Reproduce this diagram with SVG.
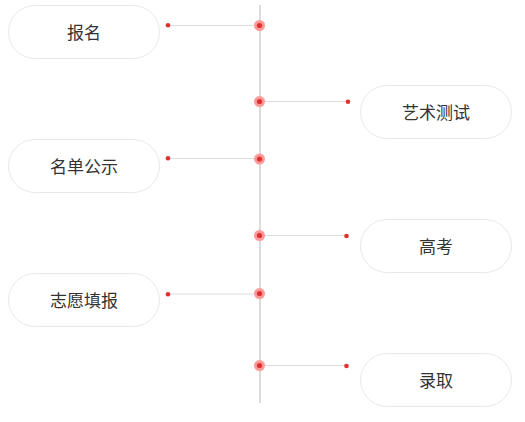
<svg xmlns="http://www.w3.org/2000/svg" width="525" height="422" viewBox="0 0 525 422">
<style>
.pill{fill:#fff;stroke:#e8e8e8;stroke-width:1}
.lbl{font-family:"Noto Sans CJK SC","Noto Sans",sans-serif;font-size:17px;fill:#333;text-anchor:middle;dominant-baseline:central}
.conn{stroke:#dddddd;stroke-width:1;fill:none}
.dot{fill:#e0302f}
.halo{fill:#ff9a9a}
</style>
<rect width="525" height="422" fill="#fff"/>
<g id="connectors">
<line x1="260" y1="5" x2="260" y2="403" stroke="#dcdcdc" stroke-width="2"/>
<line class="conn" x1="168" y1="25.5" x2="260" y2="25.5"/>
<line class="conn" x1="260" y1="101.5" x2="347" y2="101.5"/>
<line class="conn" x1="168" y1="158.5" x2="260" y2="158.5"/>
<line class="conn" x1="260" y1="235.5" x2="347" y2="235.5"/>
<line class="conn" x1="168" y1="294" x2="260" y2="294"/>
<line class="conn" x1="260" y1="365.5" x2="347" y2="365.5"/>
<circle class="dot" cx="168" cy="25.3" r="2.3"/>
<circle class="halo" cx="259.5" cy="25.5" r="5.5"/><circle class="dot" cx="259.5" cy="25.5" r="2.6"/>
<circle class="dot" cx="348" cy="101.8" r="2.3"/>
<circle class="halo" cx="259.5" cy="101.5" r="5.5"/><circle class="dot" cx="259.5" cy="101.5" r="2.6"/>
<circle class="dot" cx="168" cy="158.3" r="2.3"/>
<circle class="halo" cx="259.5" cy="159" r="5.5"/><circle class="dot" cx="259.5" cy="159" r="2.6"/>
<circle class="dot" cx="346.5" cy="236" r="2.3"/>
<circle class="halo" cx="259.5" cy="235.5" r="5.5"/><circle class="dot" cx="259.5" cy="235.5" r="2.6"/>
<circle class="dot" cx="168" cy="294.3" r="2.3"/>
<circle class="halo" cx="259.5" cy="293.5" r="5.5"/><circle class="dot" cx="259.5" cy="293.5" r="2.6"/>
<circle class="dot" cx="346.5" cy="366" r="2.3"/>
<circle class="halo" cx="259.5" cy="365.5" r="5.5"/><circle class="dot" cx="259.5" cy="365.5" r="2.6"/>
</g>
<g id="node-baoming"><rect class="pill" x="8.5" y="5.5" width="151" height="53" rx="26.5"/><text class="lbl" x="84" y="31.5">报名</text></g>
<g id="node-yishu"><rect class="pill" x="360.5" y="85.5" width="151" height="53" rx="26.5"/><text class="lbl" x="436" y="111.5">艺术测试</text></g>
<g id="node-mingdan"><rect class="pill" x="8.5" y="139.5" width="151" height="53" rx="26.5"/><text class="lbl" x="84" y="165.5">名单公示</text></g>
<g id="node-gaokao"><rect class="pill" x="360.5" y="219.5" width="151" height="53" rx="26.5"/><text class="lbl" x="436" y="245.5">高考</text></g>
<g id="node-zhiyuan"><rect class="pill" x="8.5" y="273.5" width="151" height="53" rx="26.5"/><text class="lbl" x="84" y="299.5">志愿填报</text></g>
<g id="node-luqu"><rect class="pill" x="360.5" y="353.5" width="151" height="53" rx="26.5"/><text class="lbl" x="436" y="379.5">录取</text></g>
</svg>
